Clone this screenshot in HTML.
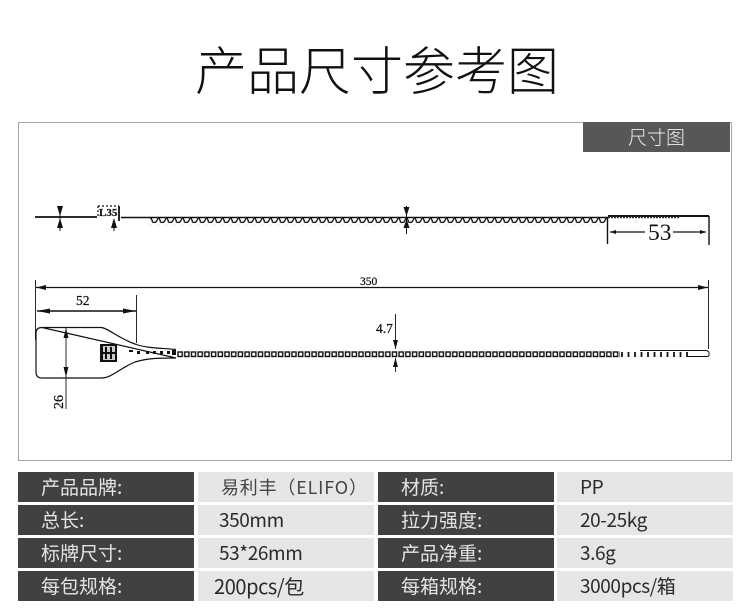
<!DOCTYPE html>
<html lang="zh"><head><meta charset="utf-8">
<style>
html,body{margin:0;padding:0;background:#fff}
body{width:750px;height:608px;position:relative;overflow:hidden;font-family:"Liberation Sans","Noto Sans CJK SC",sans-serif}
.t{position:absolute;left:195px;top:29px;width:370px;font-size:52px;line-height:78px;font-weight:300;color:#111;white-space:nowrap;font-family:"Noto Sans CJK SC",sans-serif}
.frame{position:absolute;left:18px;top:122px;width:712px;height:337px;border:1px solid #a5a5a5}
.tab{position:absolute;left:583px;top:122px;width:147px;height:30px;background:#575757;color:#eee;font-size:19px;line-height:30px;text-align:center;font-family:"Noto Sans CJK SC",sans-serif;font-weight:300}
.c{position:absolute;height:30px;line-height:30px;font-size:19px;white-space:nowrap;font-family:"Noto Sans CJK SC",sans-serif;font-weight:400}
.d{background:#3f4143;color:#e4e4e4;width:176px}
.l{background:#e6e6e6;color:#2a2a2a;letter-spacing:-.4px}
svg{position:absolute;left:0;top:0;filter:blur(.35px)}
</style></head><body>
<div class="t">产品尺寸参考图</div>
<div class="frame"></div>
<div class="tab">尺寸图</div>
<svg width="750" height="608" viewBox="0 0 750 608" xmlns="http://www.w3.org/2000/svg">
<defs>
<pattern id="teeth" x="135" y="216" width="8" height="8" patternUnits="userSpaceOnUse">
<path d="M0 1 L1.500 6 Q3 7 5 6 L8 1" fill="none" stroke="#111" stroke-width="1.300"/>
</pattern>
<pattern id="ladder" x="177" y="351" width="6.7" height="7" patternUnits="userSpaceOnUse">
<rect x="1" y="1" width="4.2" height="4.500" fill="none" stroke="#111" stroke-width="1.400"/>
</pattern>
<pattern id="ticks" x="620" y="351" width="6.5" height="7" patternUnits="userSpaceOnUse">
<path d="M2 1V6" stroke="#111" stroke-width="1.800"/>
</pattern>
</defs>
<g fill="none" stroke="#111" stroke-linecap="butt">
<!-- top view strap -->
<path d="M35 217H97" stroke-width="1.800"/>
<path d="M119 206V221" stroke-width="1.800"/>
<path d="M121 217.500H608" stroke-width="1.500"/>
<path d="M608 216H709" stroke-width="2"/>
<path d="M98 206H119M98 206V217" stroke-width="1.200" stroke-dasharray="2 2"/>
<path d="M60 207V231" stroke-width="1"/>
<path d="M114 220V231" stroke-width="1"/>
<path d="M406.500 206V234" stroke-width="1"/>
<path d="M607.500 217V244M709 216V245" stroke-width="1.400"/>
<path d="M610 232H645M673 232H706" stroke-width="1.200"/>
<!-- 350 dim -->
<path d="M36 287.500H708" stroke-width="1.200"/>
<path d="M35.500 280V340M708.500 280V349" stroke-width="0.900"/>
<!-- 52 dim -->
<path d="M37 311H136" stroke-width="1.600"/>
<path d="M136.500 295V343" stroke-width="0.900"/>
<!-- tag outline -->
<path d="M42 327.500H101C108 328 118 338 135 344C145 348 160 348 176 349.500M176 358C160 358 148 358 135 362C120 368 112 378 101 378H42Q36 378 36 372V333Q36 327.500 42 327.500Z" stroke-width="1.200"/>
<!-- 26 dim -->
<path d="M66 327V409" stroke-width="0.900"/>
<!-- 4.7 dim -->
<path d="M395.500 314V349M395.500 358V372" stroke-width="0.900"/>
<!-- end of strap -->
<path d="M640 350.500L706 350.500Q709 351 709 353V355Q709 356.500 706 356.500H688" stroke-width="1"/>
</g>
<rect x="150" y="217" width="458" height="8" fill="url(#teeth)"/>
<path d="M608 217.500H680" stroke="#333" stroke-width="1.600" stroke-dasharray="2 1" fill="none"/>
<rect x="177" y="351" width="443" height="7" fill="url(#ladder)"/>
<rect x="620" y="351" width="68" height="7" fill="url(#ticks)"/>
<g fill="#111">
<!-- arrowheads -->
<path d="M57 206H63L60 216ZM60 218L63 228H57Z"/>
<path d="M114 218L117 228H111Z"/>
<path d="M406.500 216L403.500 207H409.500ZM406.500 219L409.500 228H403.500Z"/>
<path d="M610 232L616 230V234ZM706 232L700 230V234Z"/>
<path d="M36 287.500L46 285V290ZM708 287.500L698 285V290Z"/>
<path d="M37 311L50 308.500V313.500ZM136 311L123 308.500V313.500Z"/>
<path d="M66 328L68.500 338H63.500ZM66 377L63.500 367H68.500Z"/>
<path d="M395.500 349L393 340H398ZM395.500 358L398 367H393Z"/>
<!-- logo stamp -->
<rect x="100" y="344" width="17" height="18"/>
<rect x="103" y="346" width="12" height="14" fill="#ccc"/>
<path d="M105 347h2v12h-2zM110 347h2v12h-2zM103 352h12v2h-12z"/>
<!-- dashes in handle -->
<path d="M129 350h4v2h-4zM137 351h3v3h-3zM146 351h3v3h-3zM153 351h3v3h-3zM160 351h3v3h-3zM167 351h3v3h-3zM172 350h4v5h-4z"/>
</g>
<g font-family="'Liberation Serif',serif" fill="#111" stroke="#111" stroke-width="0.250">
<text x="99" y="216" font-size="11" font-weight="bold">L35</text>
<text x="648" y="240" font-size="23.500" stroke="none">53</text>
<text x="360" y="285" font-size="11.500">350</text>
<text x="76" y="305" font-size="13.500">52</text>
<text x="376" y="333" font-size="13.500">4.7</text>
<text transform="translate(63 409) rotate(-90)" font-size="14">26</text>
</g>
</svg>

<div class="c d" style="left:18px;top:472px;padding-left:23px;width:153px">产品品牌:</div>
<div class="c l" style="left:198px;top:472px;width:176px;color:#444"><span style="position:absolute;left:23px;font-size:18px;letter-spacing:.8px">易利丰（ELIFO）</span></div>
<div class="c d" style="left:378px;top:472px;padding-left:23px;width:153px">材质:</div>
<div class="c l" style="left:557px;top:472px;width:153px;padding-left:23px">PP</div>

<div class="c d" style="left:18px;top:505px;padding-left:23px;width:153px">总长:</div>
<div class="c l" style="left:198px;top:505px;width:155px;padding-left:21px">350mm</div>
<div class="c d" style="left:378px;top:505px;padding-left:23px;width:153px">拉力强度:</div>
<div class="c l" style="left:557px;top:505px;width:153px;padding-left:23px">20-25kg</div>

<div class="c d" style="left:18px;top:538px;padding-left:23px;width:153px">标牌尺寸:</div>
<div class="c l" style="left:198px;top:538px;width:155px;padding-left:21px">53*26mm</div>
<div class="c d" style="left:378px;top:538px;padding-left:23px;width:153px">产品净重:</div>
<div class="c l" style="left:557px;top:538px;width:153px;padding-left:23px">3.6g</div>

<div class="c d" style="left:18px;top:571px;padding-left:23px;width:153px">每包规格:</div>
<div class="c l" style="left:198px;top:571px;width:160px;padding-left:16px;font-size:20px">200pcs/包</div>
<div class="c d" style="left:378px;top:571px;padding-left:23px;width:153px">每箱规格:</div>
<div class="c l" style="left:557px;top:571px;width:153px;padding-left:23px">3000pcs/箱</div>
</body></html>
